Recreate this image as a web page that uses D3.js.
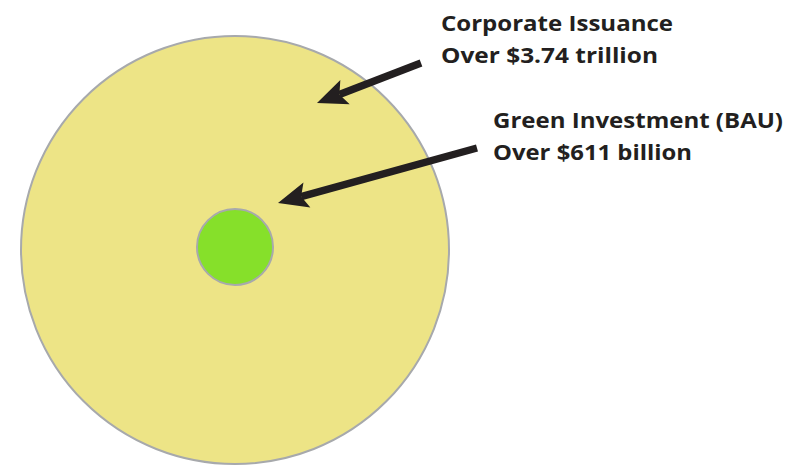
<!DOCTYPE html>
<html><head><meta charset="utf-8">
<script src="https://cdn.jsdelivr.net/npm/d3@7"></script>
<style>html,body{margin:0;padding:0;background:#fff;}svg{display:block;}</style>
</head><body>
<script>
// Data
const categories = ["Corporate Issuance", "Green Investment (BAU)"];
const valuesBillion = [3740, 611];
const valueLabels = ["Over $3.74 trillion", "Over $611 billion"];
const fills = ["#ede486", "#86e02a"];

const W = 794, H = 465;
const svg = d3.select("body").append("svg").attr("width", W).attr("height", H);

const r = d3.scaleLinear().domain([611, 3740]).range([38, 214]);
const cx = 235;
const cy = d3.scaleOrdinal().domain(categories).range([250, 247]);

svg.selectAll("circle.bubble").data(categories).join("circle")
  .attr("class", "bubble")
  .attr("cx", cx)
  .attr("cy", d => cy(d))
  .attr("r", (d, i) => r(valuesBillion[i]))
  .attr("fill", (d, i) => fills[i])
  .attr("stroke", "#a7a9ac")
  .attr("stroke-width", 2);

// annotations: label positions and arrows
const labelPos = [
  {x: 441, y1: 31, y2: 63, w1: 232, w2: 217},
  {x: 493, y1: 128, y2: 160, w1: 290, w2: 199}
];
const arrows = [
  {x1: 421, y1: 63, x2: 317, y2: 103},
  {x1: 477, y1: 148, x2: 278, y2: 203}
];

const txt = svg.append("g")
  .attr("font-family", "'Open Sans', Lato, sans-serif")
  .attr("font-weight", 700)
  .attr("font-size", 22)
  .attr("fill", "#231f20");

categories.forEach((c, i) => {
  const p = labelPos[i];
  txt.append("text").attr("x", p.x).attr("y", p.y1)
    .attr("textLength", p.w1).attr("lengthAdjust", "spacingAndGlyphs").text(c);
  txt.append("text").attr("x", p.x).attr("y", p.y2)
    .attr("textLength", p.w2).attr("lengthAdjust", "spacingAndGlyphs").text(valueLabels[i]);
});

const headLen = 30, headHalf = 13, shaft = 7.5;
arrows.forEach(a => {
  const dx = a.x2 - a.x1, dy = a.y2 - a.y1;
  const L = Math.hypot(dx, dy);
  const ux = dx / L, uy = dy / L;
  const px = -uy, py = ux;
  const bx = a.x2 - ux * headLen, by = a.y2 - uy * headLen;
  const nx = a.x2 - ux * (headLen - 6), ny = a.y2 - uy * (headLen - 6);
  svg.append("line")
    .attr("x1", a.x1).attr("y1", a.y1).attr("x2", nx).attr("y2", ny)
    .attr("stroke", "#231f20").attr("stroke-width", shaft);
  svg.append("path")
    .attr("d", d3.line()([
      [a.x2, a.y2],
      [bx + px * headHalf, by + py * headHalf],
      [nx, ny],
      [bx - px * headHalf, by - py * headHalf]
    ]) + "Z")
    .attr("fill", "#231f20");
});
</script>
</body></html>
